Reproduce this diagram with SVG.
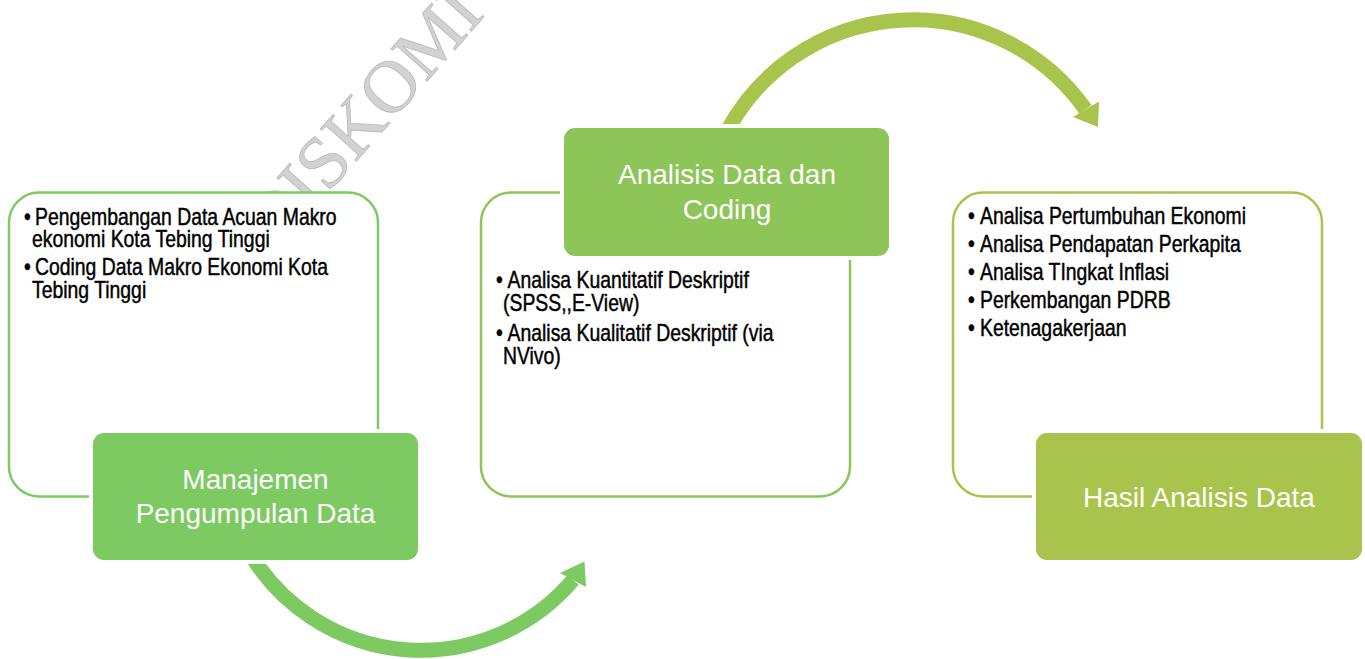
<svg xmlns="http://www.w3.org/2000/svg" width="1365" height="659" viewBox="0 0 1365 659">
  <style>
    .outline { fill: #ffffff; stroke-width: 2.5; }
    .gap { fill: #ffffff; }
    .hdr { font-family: "Liberation Sans", Arial, sans-serif; font-size: 28px; fill: #ffffff; text-anchor: middle; }
    .bul { font-family: "Liberation Sans", Arial, sans-serif; font-size: 23.5px; fill: #000000; stroke: #000000; stroke-width: 0.45; }
    .wm { font-family: "Liberation Serif", "Times New Roman", serif; font-size: 74px; fill: #d2d2d2; stroke: #b8b8b8; stroke-width: 0.8; }
    .arc { fill: none; stroke-width: 15; stroke-linecap: butt; }
  </style>
  <defs>
    <clipPath id="clipBottom"><rect x="0" y="563" width="1365" height="96"/></clipPath>
    <clipPath id="clipTop"><rect x="0" y="0" width="1365" height="125"/></clipPath>
  </defs>
  <rect x="0" y="0" width="1365" height="659" fill="#ffffff"/>

  <text class="wm" transform="translate(276,252) rotate(-48.5)">DISKOMI</text>

  <g id="connectors">
    <path class="arc" stroke="#7dca63" clip-path="url(#clipBottom)" d="M 251 555 A 199.4 199.4 0 0 0 573 580"/>
    <polygon fill="#7dca63" points="560,573 584.5,561.5 586,587"/>
    <path class="arc" stroke="#a8c44c" clip-path="url(#clipTop)" d="M 726.6 132 A 210.8 210.8 0 0 1 1085.5 109.5"/>
    <polygon fill="#a8c44c" points="1073,117 1099,101.5 1098,127"/>
  </g>

  <g id="node-manajemen">
    <rect class="outline" stroke="#7dca63" x="9" y="192.5" width="369" height="304" rx="30" ry="30"/>
    <text class="bul" transform="translate(24,224.5) scale(0.825,1)">•<tspan x="13.3">Pengembangan Data Acuan Makro</tspan></text>
    <text class="bul" transform="translate(32,247) scale(0.825,1)">ekonomi Kota Tebing Tinggi</text>
    <text class="bul" transform="translate(24,274.5) scale(0.825,1)">•<tspan x="13.3">Coding Data Makro Ekonomi Kota</tspan></text>
    <text class="bul" transform="translate(32,297.5) scale(0.825,1)">Tebing Tinggi</text>
    <rect class="gap" x="89" y="429" width="333" height="135" rx="14" ry="14"/>
    <rect fill="#7dca63" x="93" y="433" width="325" height="127" rx="11" ry="11"/>
    <text class="hdr" x="255.5" y="489">Manajemen</text>
    <text class="hdr" x="255.5" y="523">Pengumpulan Data</text>
  </g>

  <g id="node-analisis">
    <rect class="outline" stroke="#8dc559" x="481" y="192.5" width="369" height="304" rx="30" ry="30"/>
    <rect class="gap" x="560" y="124" width="333" height="136" rx="14" ry="14"/>
    <rect fill="#8dc559" x="564" y="128" width="325" height="128" rx="11" ry="11"/>
    <text class="hdr" x="727" y="184">Analisis Data dan</text>
    <text class="hdr" x="727" y="219">Coding</text>
    <text class="bul" transform="translate(496,288) scale(0.825,1)">•<tspan x="14">Analisa Kuantitatif Deskriptif</tspan></text>
    <text class="bul" transform="translate(503,311) scale(0.825,1)">(SPSS,,E-View)</text>
    <text class="bul" transform="translate(496,341) scale(0.825,1)">•<tspan x="14">Analisa Kualitatif Deskriptif (via</tspan></text>
    <text class="bul" transform="translate(503,364) scale(0.825,1)">NVivo)</text>
  </g>

  <g id="node-hasil">
    <rect class="outline" stroke="#a8c44c" x="953" y="192.5" width="369" height="304" rx="30" ry="30"/>
    <text class="bul" transform="translate(968,223.5) scale(0.825,1)">•<tspan x="14.5">Analisa Pertumbuhan Ekonomi</tspan></text>
    <text class="bul" transform="translate(968,251.5) scale(0.825,1)">•<tspan x="14.5">Analisa Pendapatan Perkapita</tspan></text>
    <text class="bul" transform="translate(968,279.5) scale(0.825,1)">•<tspan x="14.5">Analisa TIngkat Inflasi</tspan></text>
    <text class="bul" transform="translate(968,308) scale(0.825,1)">•<tspan x="14.5">Perkembangan PDRB</tspan></text>
    <text class="bul" transform="translate(968,336) scale(0.825,1)">•<tspan x="14.5">Ketenagakerjaan</tspan></text>
    <rect class="gap" x="1032" y="429" width="333" height="135" rx="14" ry="14"/>
    <rect fill="#a8c44c" x="1036" y="433" width="326" height="127" rx="11" ry="11"/>
    <text class="hdr" x="1199" y="507">Hasil Analisis Data</text>
  </g>
</svg>
